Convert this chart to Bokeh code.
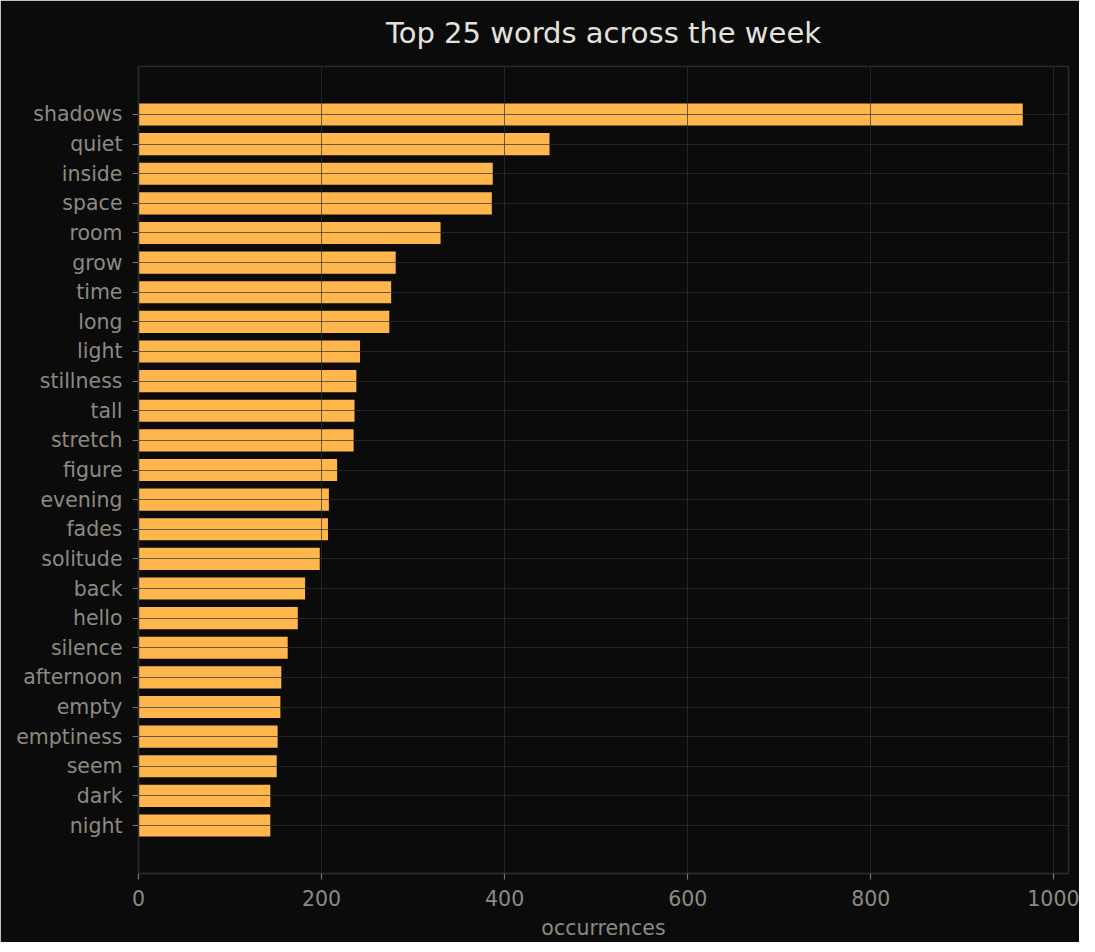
from bokeh.plotting import figure
from bokeh.models import Range1d, FixedTicker, ColumnDataSource
from bokeh.embed import file_html
from bokeh.resources import INLINE

words = ["shadows", "quiet", "inside", "space", "room", "grow", "time", "long",
         "light", "stillness", "tall", "stretch", "figure", "evening", "fades",
         "solitude", "back", "hello", "silence", "afternoon", "empty",
         "emptiness", "seem", "dark", "night"]
counts = [966, 449, 387, 386, 330, 281, 276, 274, 242, 238, 236, 235, 217,
          208, 207, 198, 182, 174, 163, 156, 155, 152, 151, 144, 144]
x_ticks = [0, 200, 400, 600, 800, 1000]

positions = list(range(len(words)))
source = ColumnDataSource(dict(y=positions, count=counts, word=words))

BG = "#0b0b0b"
TXT = "#8c8a82"
FONT = "DejaVu Sans"

p = figure(frame_width=930, frame_height=807,
           x_range=Range1d(0, 1016),
           y_range=Range1d(len(words) - 1 + 1.62, -1.62),
           output_backend="svg", toolbar_location=None,
           min_border_left=138, min_border_right=11,
           min_border_bottom=63, min_border_top=66,
           title="Top 25 words across the week")

p.background_fill_color = BG
p.border_fill_color = BG
p.outline_line_color = "#2a2a2a"
p.outline_line_width = 1.5

p.hbar(y="y", left=0, right="count", height=0.75, source=source,
       fill_color="#ffb74d", line_color=None)

p.title.align = "center"
p.title.vertical_align = "top"
p.title.text_font = FONT
p.title.text_font_size = "29px"
p.title.text_font_style = "normal"
p.title.text_color = "#e4e2dc"
p.title.standoff = 30

p.xaxis.ticker = FixedTicker(ticks=x_ticks)
p.yaxis.ticker = FixedTicker(ticks=positions)
p.yaxis.major_label_overrides = {i: w for i, w in enumerate(words)}
p.xaxis.axis_label = "occurrences"

for ax in (p.xaxis[0], p.yaxis[0]):
    ax.axis_line_color = "#2a2a2a"
    ax.axis_line_width = 1.5
    ax.major_tick_line_color = "#77756e"
    ax.major_tick_line_width = 1.2
    ax.major_tick_out = 6
    ax.major_tick_in = 0
    ax.minor_tick_line_color = None
    ax.major_label_text_font = FONT
    ax.major_label_text_font_size = "20.5px"
    ax.major_label_text_color = TXT
    ax.axis_label_text_font = FONT
    ax.axis_label_text_font_size = "20.5px"
    ax.axis_label_text_font_style = "normal"
    ax.axis_label_text_color = TXT

p.yaxis.major_label_standoff = 10
p.xaxis.major_label_standoff = 10
p.xaxis.axis_label_standoff = 7

p.xgrid.ticker = FixedTicker(ticks=x_ticks)
p.ygrid.ticker = FixedTicker(ticks=positions)
for g in (p.xgrid[0], p.ygrid[0]):
    g.grid_line_color = "#2e2e2e"
    g.grid_line_alpha = 0.7
    g.grid_line_width = 1
    g.level = "overlay"

html = file_html(p, INLINE)
html = html.replace("<body>", '<body style="background-color:#0b0b0b;">', 1)
open("out.html", "w").write(html)
